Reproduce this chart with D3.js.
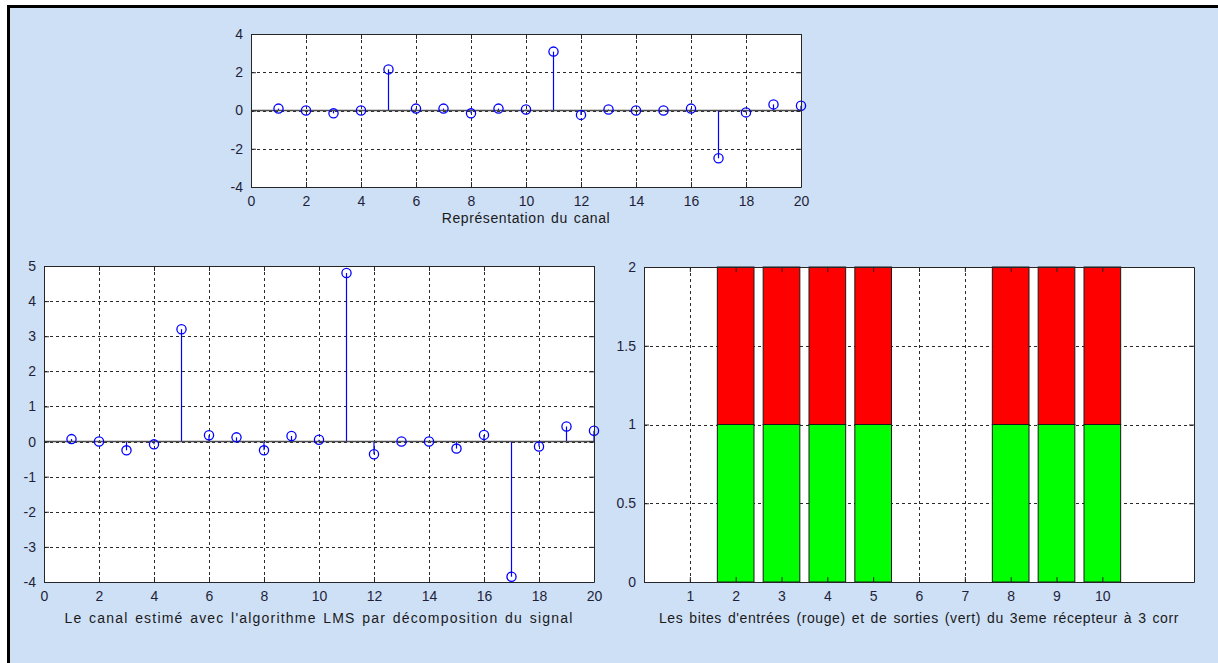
<!DOCTYPE html>
<html>
<head>
<meta charset="utf-8">
<script src="https://cdn.jsdelivr.net/npm/d3@7"></script>
<style>
  html, body { margin: 0; padding: 0; background: #ffffff; }
  svg { display: block; }
  text { font-family: "Liberation Sans", Arial, Helvetica, sans-serif; }
</style>
</head>
<body>
<svg id="fig" width="1218" height="663"></svg>
<script>
// Channel taps: indices and values
const canalIdx = [1, 2, 3, 4, 5, 6, 7, 8, 9, 10, 11, 12, 13, 14, 15, 16, 17, 18, 19, 20];
const canalReel = [0.1, 0, -0.15, 0, 2.15, 0.1, 0.1, -0.15, 0.1, 0.05, 3.08, -0.23, 0.05, 0, 0, 0.1, -2.5, -0.1, 0.32, 0.25];
const canalEstime = [0.07, 0, -0.25, -0.08, 3.2, 0.18, 0.12, -0.25, 0.16, 0.05, 4.8, -0.36, 0, 0, -0.2, 0.19, -3.85, -0.14, 0.43, 0.31];

// Bits in / bits out of the receiver
const bitIdx = [1, 2, 3, 4, 5, 6, 7, 8, 9, 10];
const bitsSortie = [0, 1, 1, 1, 1, 0, 0, 1, 1, 1];
const bitsEntree = [0, 1, 1, 1, 1, 0, 0, 1, 1, 1];

// Tick values
const topXTicks = [0, 2, 4, 6, 8, 10, 12, 14, 16, 18, 20];
const topYTicks = [-4, -2, 0, 2, 4];
const estXTicks = [0, 2, 4, 6, 8, 10, 12, 14, 16, 18, 20];
const estYTicks = [-4, -3, -2, -1, 0, 1, 2, 3, 4, 5];
const bitXTicks = [1, 2, 3, 4, 5, 6, 7, 8, 9, 10];
const bitYTicks = [0, 0.5, 1, 1.5, 2];

// Text
const titreCanal = "Représentation du canal";
const titreEstime = "Le canal estimé avec l'algorithme LMS par décomposition du signal";
const titreBits = "Les bites d'entrées (rouge) et de sorties (vert) du 3eme récepteur à 3 corr";

const svg = d3.select("#fig");

// Figure background and frame
svg.append("rect").attr("x", 10).attr("y", 8).attr("width", 1208).attr("height", 655).attr("fill", "#cee0f6");
svg.append("path").attr("d", "M8.5,663 V6.5 H1218").attr("fill", "none").attr("stroke", "#000").attr("stroke-width", 3);

const INK = "#262626";
const GRID = "#2a2a2a";
const TICKLEN = 5;
const TICK_FONT = 14;
const LABEL_FONT = 14;
const plainNum = d => String(d); // ASCII hyphen for negatives

function makeAxes(box, xDomain, yDomain, xTicks, yTicks, xlabel, labelSpacing, labelDy) {
  const g = svg.append("g");
  const x = d3.scaleLinear().domain(xDomain).range([box.x0, box.x1]);
  const y = d3.scaleLinear().domain(yDomain).range([box.y1, box.y0]);

  g.append("rect").attr("x", box.x0).attr("y", box.y0)
    .attr("width", box.x1 - box.x0).attr("height", box.y1 - box.y0).attr("fill", "#fff");

  const grid = g.append("g").attr("stroke", GRID).attr("stroke-width", 1).attr("stroke-dasharray", "3,3");
  grid.selectAll("line.gx").data(xTicks.filter(t => t > xDomain[0] && t < xDomain[1])).join("line")
    .attr("x1", d => Math.round(x(d)) + 0.5).attr("x2", d => Math.round(x(d)) + 0.5)
    .attr("y1", box.y0).attr("y2", box.y1);
  grid.selectAll("line.gy").data(yTicks.filter(t => t > yDomain[0] && t < yDomain[1])).join("line")
    .attr("y1", d => Math.round(y(d)) + 0.5).attr("y2", d => Math.round(y(d)) + 0.5)
    .attr("x1", box.x0).attr("x2", box.x1);

  const marks = g.append("g");
  const front = g.append("g");

  // Box and inward ticks on all four sides
  const axB = d3.axisBottom(x).tickValues(xTicks).tickSizeInner(-TICKLEN).tickSizeOuter(0).tickPadding(9).tickFormat(plainNum);
  const axT = d3.axisTop(x).tickValues(xTicks).tickSizeInner(-TICKLEN).tickSizeOuter(0).tickFormat("");
  const axL = d3.axisLeft(y).tickValues(yTicks).tickSizeInner(-TICKLEN).tickSizeOuter(0).tickPadding(8).tickFormat(plainNum);
  const axR = d3.axisRight(y).tickValues(yTicks).tickSizeInner(-TICKLEN).tickSizeOuter(0).tickFormat("");

  const styleAxis = sel => {
    sel.attr("font-size", TICK_FONT).attr("font-family", "'Liberation Sans', Arial, sans-serif");
    sel.selectAll("path.domain").attr("stroke", INK).attr("stroke-width", 1);
    sel.selectAll(".tick line").attr("stroke", INK);
    sel.selectAll(".tick text").attr("fill", "#1f1f3a").style("font-size", TICK_FONT + "px");
  };
  front.append("g").attr("transform", `translate(0,${box.y1})`).call(axB).call(styleAxis);
  front.append("g").attr("transform", `translate(0,${box.y0})`).call(axT).call(styleAxis);
  front.append("g").attr("transform", `translate(${box.x0},0)`).call(axL).call(styleAxis);
  front.append("g").attr("transform", `translate(${box.x1},0)`).call(axR).call(styleAxis);

  front.append("text").attr("x", (box.x0 + box.x1) / 2).attr("y", box.y1 + labelDy)
    .attr("text-anchor", "middle").style("font-size", LABEL_FONT + "px")
    .style("letter-spacing", labelSpacing + "px").style("word-spacing", "1.5px")
    .attr("fill", "#1a1a1a").text(xlabel);

  return { x, y, marks, front };
}

function drawStems(ax, idx, vals) {
  const base = ax.y(0);
  ax.marks.append("g").attr("stroke", "#0000ff").attr("stroke-width", 1.2)
    .selectAll("line").data(idx).join("line")
    .attr("x1", (d) => ax.x(d)).attr("x2", (d) => ax.x(d))
    .attr("y1", base).attr("y2", (d, i) => ax.y(vals[i]));
  ax.marks.append("line").attr("x1", ax.x.range()[0]).attr("x2", ax.x.range()[1])
    .attr("y1", base).attr("y2", base).attr("stroke", "#4d4d4d").attr("stroke-width", 1.6);
  ax.marks.append("g").attr("fill", "none").attr("stroke", "#0000ff").attr("stroke-width", 1.3)
    .selectAll("circle").data(idx).join("circle")
    .attr("cx", d => ax.x(d)).attr("cy", (d, i) => ax.y(vals[i])).attr("r", 4.6);
}

// Top: the true channel
const axTop = makeAxes({ x0: 251, x1: 801, y0: 34, y1: 187 }, [0, 20], [-4, 4], topXTicks, topYTicks, titreCanal, 0.6, 36);
drawStems(axTop, canalIdx, canalReel);

// Bottom left: LMS estimate
const axEst = makeAxes({ x0: 44, x1: 594, y0: 266, y1: 582 }, [0, 20], [-4, 5], estXTicks, estYTicks, titreEstime, 1.2, 41);
drawStems(axEst, canalIdx, canalEstime);

// Bottom right: stacked bits (output green at the bottom, input red on top)
const axBits = makeAxes({ x0: 644, x1: 1194, y0: 267, y1: 582 }, [0, 12], [0, 2], bitXTicks, bitYTicks, titreBits, 0.6, 41);
const stack = d3.stack().keys(["sortie", "entree"])(bitIdx.map((b, i) => ({ b, sortie: bitsSortie[i], entree: bitsEntree[i] })));
const bitColors = { sortie: "#00ff00", entree: "#ff0000" };
const barW = axBits.x(0.8) - axBits.x(0);
stack.forEach(layer => {
  axBits.marks.append("g").selectAll("rect").data(layer.filter(d => d[1] > d[0])).join("rect")
    .attr("x", d => axBits.x(d.data.b) - barW / 2).attr("width", barW)
    .attr("y", d => axBits.y(d[1])).attr("height", d => axBits.y(d[0]) - axBits.y(d[1]))
    .attr("fill", bitColors[layer.key]).attr("stroke", "#1a1a1a").attr("stroke-width", 1);
});
</script>
</body>
</html>
